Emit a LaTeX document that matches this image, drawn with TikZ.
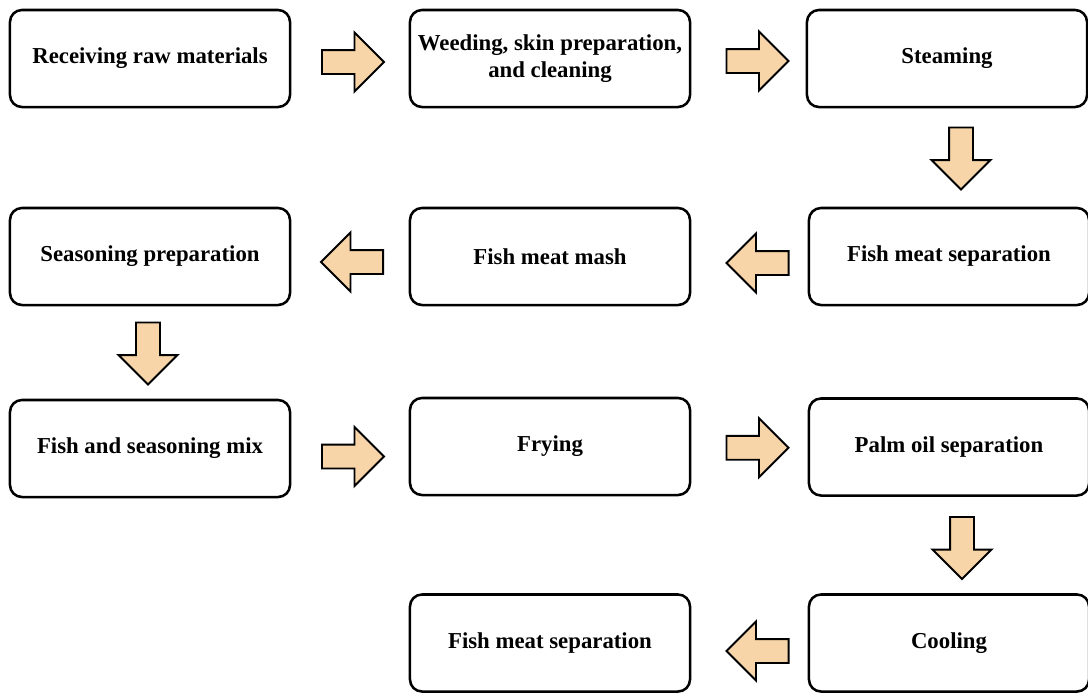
\documentclass[tikz,border=0pt]{standalone}
\usepackage{fontspec}
\setmainfont{Liberation Serif}
\usetikzlibrary{shapes.arrows,calc}

\definecolor{arrowfill}{RGB}{247,213,168}

\tikzset{
  stepbox/.style={draw,line width=1.8pt,rounded corners=0.3cm,minimum width=7cm,
    minimum height=2.425cm,align=center,inner sep=0pt,
    font=\bfseries\fontsize{16.2}{19}\selectfont},
  flowarrow/.style={single arrow,draw,fill=arrowfill,line width=1.4pt,
    inner xsep=0pt,inner ysep=0.275cm,
    minimum height=1.55cm,single arrow head extend=0.4375cm}
}

\begin{document}
\begin{tikzpicture}[x=0.025cm,y=-0.025cm]

  \useasboundingbox (0,0) rectangle (1088,693);

  % Draw the process steps
  \node[stepbox] (raw) at (150,58.5) {Receiving raw materials};
  \node[stepbox] (weed) at (550,58.5) {Weeding, skin preparation,\\and cleaning};
  \node[stepbox] (steam) at (947,58.5) {Steaming};

  \node[stepbox] (sepA) at (949,256.5) {Fish meat separation};
  \node[stepbox] (mash) at (550,256.5) {Fish meat mash};
  \node[stepbox] (season) at (150,256.5) {Seasoning preparation};

  \node[stepbox] (mix) at (150,448.5) {Fish and seasoning mix};
  \node[stepbox] (fry) at (550,446.5) {Frying};
  \node[stepbox] (palm) at (949,447) {Palm oil separation};

  \node[stepbox] (cool) at (949,643) {Cooling};
  \node[stepbox] (sepB) at (550,643) {Fish meat separation};

  % Draw the block arrows between the steps
  \node[flowarrow] (a1) at ($(raw.east)!0.5!(weed.west)+(-3,3.5)$) {};
  \node[flowarrow] (a2) at ($(weed.east)!0.5!(steam.west)+(3,2.5)$) {};
  \node[flowarrow,rotate=-90] (a3) at ($(steam.south)!0.5!(sepA.north)+(13,-5)$) {};
  \node[flowarrow,rotate=180] (a4) at ($(sepA.west)!0.5!(mash.east)+(14,6.5)$) {};
  \node[flowarrow,rotate=180] (a5) at ($(mash.west)!0.5!(season.east)+(8,5.5)$) {};
  \node[flowarrow,rotate=-90] (a6) at ($(season.south)!0.5!(mix.north)+(-2,-5)$) {};
  \node[flowarrow] (a7) at ($(mix.east)!0.5!(fry.west)+(-3,9)$) {};
  \node[flowarrow] (a8) at ($(fry.east)!0.5!(palm.west)+(2,1)$) {};
  \node[flowarrow,rotate=-90] (a9) at ($(palm.south)!0.5!(cool.north)+(13,-3)$) {};
  \node[flowarrow,rotate=180] (a10) at ($(cool.west)!0.5!(sepB.east)+(14,8)$) {};

\end{tikzpicture}
\end{document}
